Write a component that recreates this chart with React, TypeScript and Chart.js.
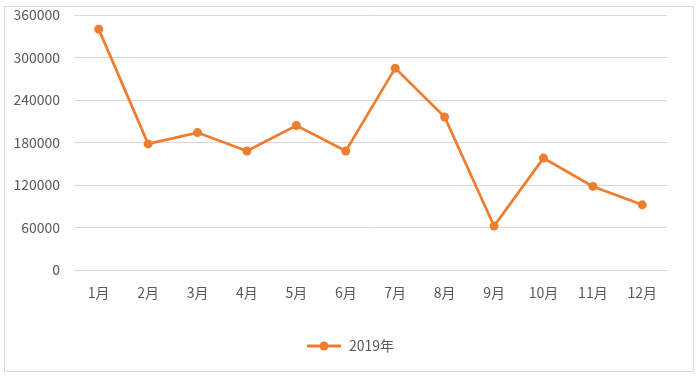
import React, { useEffect, useRef } from "react";
import { Chart, registerables } from "chart.js";

Chart.register(...registerables);

const categories = ["1月", "2月", "3月", "4月", "5月", "6月", "7月", "8月", "9月", "10月", "11月", "12月"];
const seriesName = "2019年";
const values2019 = [340000, 178000, 194000, 168000, 204000, 168000, 285000, 216000, 62000, 158000, 118000, 92000];
const yMin = 0;
const yMax = 360000;
const yStep = 60000;

const ORANGE = "#ED7D31";
const TEXT = "#595959";
const GRID = "#d9d9d9";
const FONT = '"Noto Sans CJK SC", "Noto Sans", sans-serif';

function makeLegendIcon(): HTMLCanvasElement {
  const c = document.createElement("canvas");
  c.width = 36;
  c.height = 12;
  const ctx = c.getContext("2d")!;
  ctx.strokeStyle = ORANGE;
  ctx.lineWidth = 3;
  ctx.beginPath();
  ctx.moveTo(1, 6);
  ctx.lineTo(35, 6);
  ctx.stroke();
  ctx.fillStyle = ORANGE;
  ctx.beginPath();
  ctx.arc(18, 6, 4.5, 0, Math.PI * 2);
  ctx.fill();
  return c;
}

export default function App() {
  const ref = useRef<HTMLCanvasElement | null>(null);

  useEffect(() => {
    document.body.style.margin = "0";
    const canvas = ref.current;
    if (!canvas) return;
    const icon = makeLegendIcon();
    const chart = new Chart(canvas, {
      type: "line",
      data: {
        labels: categories,
        datasets: [
          {
            label: seriesName,
            data: values2019,
            borderColor: ORANGE,
            backgroundColor: ORANGE,
            borderWidth: 2.75,
            pointRadius: 4.5,
            pointBorderWidth: 0,
            pointBackgroundColor: ORANGE,
            tension: 0,
          },
        ],
      },
      options: {
        animation: false,
        responsive: false,
        maintainAspectRatio: false,
        devicePixelRatio: 1,
        layout: { padding: { left: 0, right: 0, top: 15, bottom: 14 } },
        scales: {
          x: {
            offset: true,
            grid: { display: false, drawTicks: false },
            border: { display: false },
            ticks: {
              color: TEXT,
              font: { family: FONT, size: 14 },
              padding: 14,
              maxRotation: 0,
              autoSkip: false,
            },
            afterFit: (scale: any) => {
              scale.height = 59;
              scale.paddingLeft = 0;
              scale.paddingRight = 0;
            },
          },
          y: {
            min: yMin,
            max: yMax,
            grid: { color: GRID, lineWidth: 1, drawTicks: false },
            border: { display: false },
            ticks: {
              stepSize: yStep,
              color: TEXT,
              font: { family: FONT, size: 14 },
              padding: 14,
              callback: (v: any) => String(v),
            },
            afterFit: (scale: any) => {
              scale.width = 74;
              scale.paddingTop = 0;
              scale.paddingBottom = 0;
            },
          },
          yRight: {
            position: "right",
            display: true,
            min: yMin,
            max: yMax,
            grid: { display: false, drawTicks: false },
            border: { display: false },
            ticks: { display: false },
            afterFit: (scale: any) => {
              scale.width = 33;
              scale.paddingTop = 0;
              scale.paddingBottom = 0;
            },
          },
        },
        plugins: {
          legend: {
            display: true,
            position: "bottom",
            labels: {
              usePointStyle: true,
              pointStyle: icon as any,
              pointStyleWidth: 36,
              boxHeight: 12,
              color: TEXT,
              font: { family: FONT, size: 14 },
              padding: 10,
            },
          },
          tooltip: { enabled: false },
        },
      },
    });
    return () => chart.destroy();
  }, []);

  return (
    <div style={{ position: "absolute", left: 0, top: 0, width: 700, height: 377, background: "#fff" }}>
      <div
        style={{
          position: "absolute",
          left: 4,
          top: 6,
          width: 690,
          height: 366,
          border: `1px solid ${GRID}`,
          boxSizing: "border-box",
        }}
      />
      <canvas ref={ref} width={700} height={377} style={{ position: "absolute", left: 0, top: 0, width: 700, height: 377 }} />
    </div>
  );
}
